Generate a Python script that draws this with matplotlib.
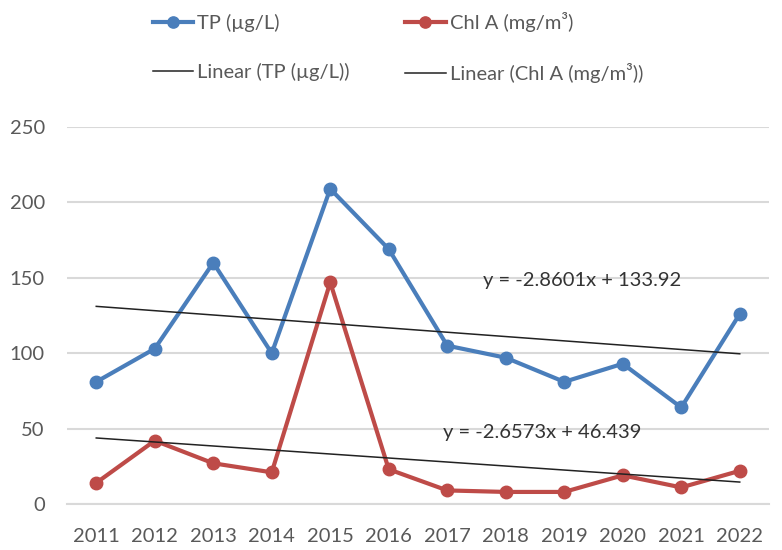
import matplotlib
matplotlib.use("Agg")
import matplotlib.pyplot as plt
import numpy as np

years = ["2011", "2012", "2013", "2014", "2015", "2016", "2017", "2018", "2019", "2020", "2021", "2022"]
tp = [81, 103, 160, 100, 209, 169, 105, 97, 81, 93, 64, 126]
chl = [14, 42, 27, 21, 147, 23, 9, 8, 8, 19, 11, 22]
tp_trend = (-2.8601, 133.92)
chl_trend = (-2.6573, 46.439)
yticks = [0, 50, 100, 150, 200, 250]

plt.rcParams['font.family'] = ['Lato', 'DejaVu Sans']

fig = plt.figure(figsize=(7.82, 5.5), dpi=100)
ax = fig.add_axes([67/782, 46/550, 702/782, 377/550])

x = np.arange(len(years))
blue = '#4A7EBB'
red = '#BE4B48'
l1, = ax.plot(x, tp, color=blue, lw=3.0, marker='o', ms=9, label='TP (µg/L)', zorder=3)
l2, = ax.plot(x, chl, color=red, lw=3.0, marker='o', ms=9, label='Chl A (mg/m³)', zorder=3)

xn = x + 1
t1, = ax.plot(x, tp_trend[0]*xn + tp_trend[1], color='#222222', lw=1.1, label='Linear (TP (µg/L))', zorder=4)
t2, = ax.plot(x, chl_trend[0]*xn + chl_trend[1], color='#222222', lw=1.1, label='Linear (Chl A (mg/m³))', zorder=4)

ax.text(6.61, 148.5, 'y = -2.8601x + 133.92', fontsize=14.5, color='#333333', va='center', ha='left')
ax.text(5.93, 47.7, 'y = -2.6573x + 46.439', fontsize=14.5, color='#333333', va='center', ha='left')

ax.set_xlim(-0.5, len(years) - 0.5)
ax.set_ylim(0, 250)
ax.set_yticks(yticks)
ax.set_xticks(x)
ax.set_xticklabels(years)
ax.grid(axis='y', color='#D9D9D9', lw=1.5)
ax.set_axisbelow(True)
for s in ['top', 'right', 'left']:
    ax.spines[s].set_visible(False)
ax.spines['bottom'].set_color('#D9D9D9')
ax.spines['bottom'].set_linewidth(1.5)
ax.tick_params(axis='both', length=0, labelsize=14.5, colors='#595959')
ax.tick_params(axis='x', pad=17)
ax.tick_params(axis='y', pad=16)

fig.legend(handles=[l1, t1, l2, t2], loc='upper left', bbox_to_anchor=(141/782, 1.0),
           ncol=2, frameon=False, fontsize=14.5, handlelength=2.0, handletextpad=0.2,
           columnspacing=2.75, labelspacing=1.55, borderaxespad=0.2,
           labelcolor='#595959', markerscale=0.9)

fig.savefig('out.png', dpi=100)
